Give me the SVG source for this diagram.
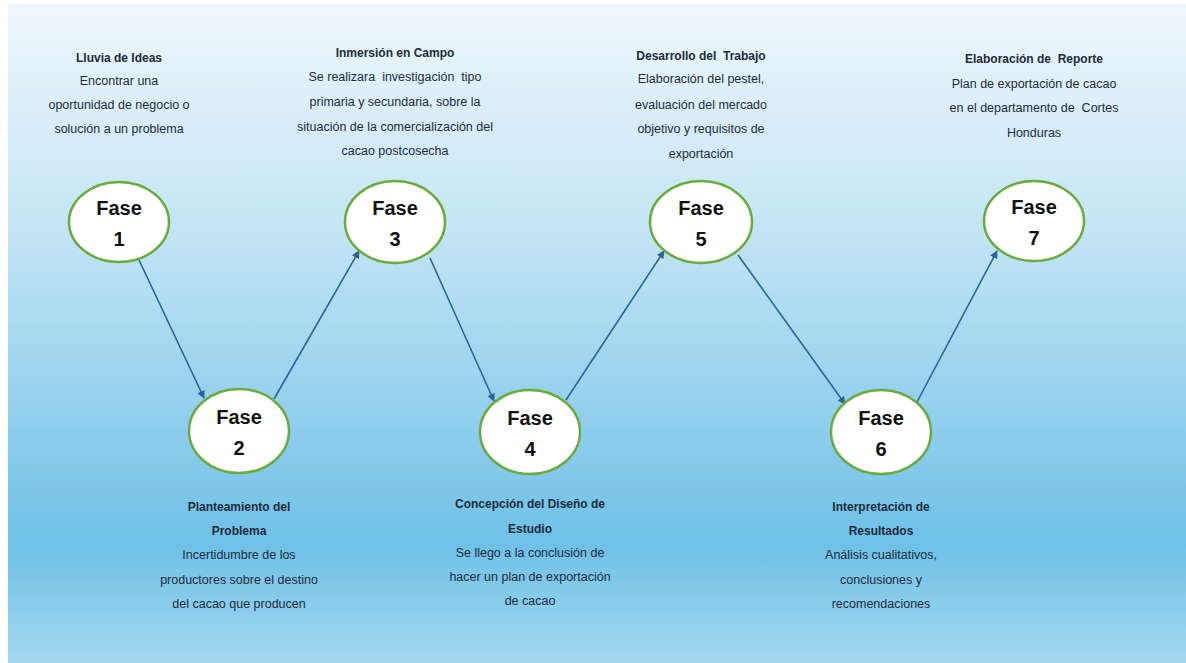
<svg xmlns="http://www.w3.org/2000/svg" width="1186" height="663" viewBox="0 0 1186 663">
<defs>
<linearGradient id="bg" x1="0" y1="0" x2="0" y2="1">
<stop offset="0" stop-color="#eff7fd"/>
<stop offset="0.35" stop-color="#c2e4f5"/>
<stop offset="0.82" stop-color="#6fc0e7"/>
<stop offset="1" stop-color="#a4d8f0"/>
</linearGradient>
<marker id="ah" viewBox="0 0 10 10" refX="9" refY="5" markerWidth="8" markerHeight="8" markerUnits="userSpaceOnUse" orient="auto">
<path d="M0,0 L10,5 L0,10 z" fill="#2a6496"/>
</marker>
<style>
.node ellipse{fill:#ffffff;stroke:#6aab3d;stroke-width:2.5}
.fase{font-family:"Liberation Sans",Arial,sans-serif;font-weight:bold;font-size:20px;fill:#111111;text-anchor:middle}
.t{font-family:"Liberation Sans",Arial,sans-serif;font-size:12.5px;fill:#1d2b3a;text-anchor:middle;white-space:pre}
.b{font-weight:bold;font-size:12px}
.conn line{stroke:#2a6496;stroke-width:1.6;marker-end:url(#ah)}
</style>
</defs>
<rect x="8" y="4" width="1178" height="659" fill="url(#bg)"/>
<g id="connectors" class="conn">
<line x1="139" y1="260" x2="204" y2="398"/>
<line x1="274" y1="399" x2="359" y2="251"/>
<line x1="430" y1="258" x2="494" y2="401"/>
<line x1="566" y1="400" x2="664" y2="251"/>
<line x1="738" y1="255" x2="845" y2="404"/>
<line x1="917" y1="402" x2="997" y2="251"/>
</g>
<g id="fase1" class="node">
<ellipse cx="119" cy="222" rx="50" ry="40"/>
<text class="fase" x="119" y="215">Fase</text>
<text class="fase" x="119" y="246">1</text>
<text class="t b" x="119" y="62">Lluvia de Ideas</text>
<text class="t" x="119" y="85">Encontrar una</text>
<text class="t" x="119" y="109">oportunidad de negocio o</text>
<text class="t" x="119" y="133">solución a un problema</text>
</g>
<g id="fase2" class="node">
<ellipse cx="239" cy="431" rx="50" ry="42"/>
<text class="fase" x="239" y="424">Fase</text>
<text class="fase" x="239" y="455">2</text>
<text class="t b" x="239" y="511">Planteamiento del</text>
<text class="t b" x="239" y="535">Problema</text>
<text class="t" x="239" y="559">Incertidumbre de los</text>
<text class="t" x="239" y="584">productores sobre el destino</text>
<text class="t" x="239" y="608">del cacao que producen</text>
</g>
<g id="fase3" class="node">
<ellipse cx="395" cy="222" rx="50" ry="41"/>
<text class="fase" x="395" y="215">Fase</text>
<text class="fase" x="395" y="246">3</text>
<text class="t b" x="395" y="57">Inmersión en Campo</text>
<text class="t" x="395" y="81">Se realizara  investigación  tipo</text>
<text class="t" x="395" y="106">primaria y secundaria, sobre la</text>
<text class="t" x="395" y="131">situación de la comercialización del</text>
<text class="t" x="395" y="155">cacao postcosecha</text>
</g>
<g id="fase4" class="node">
<ellipse cx="530" cy="432" rx="50" ry="42"/>
<text class="fase" x="530" y="425">Fase</text>
<text class="fase" x="530" y="456">4</text>
<text class="t b" x="530" y="508">Concepción del Diseño de</text>
<text class="t b" x="530" y="533">Estudio</text>
<text class="t" x="530" y="557">Se llego a la conclusión de</text>
<text class="t" x="530" y="581">hacer un plan de exportación</text>
<text class="t" x="530" y="605">de cacao</text>
</g>
<g id="fase5" class="node">
<ellipse cx="701" cy="222" rx="51" ry="41"/>
<text class="fase" x="701" y="215">Fase</text>
<text class="fase" x="701" y="246">5</text>
<text class="t b" x="701" y="60">Desarrollo del  Trabajo</text>
<text class="t" x="701" y="83">Elaboración del pestel,</text>
<text class="t" x="701" y="109">evaluación del mercado</text>
<text class="t" x="701" y="133">objetivo y requisitos de</text>
<text class="t" x="701" y="158">exportación</text>
</g>
<g id="fase6" class="node">
<ellipse cx="881" cy="432" rx="50" ry="42"/>
<text class="fase" x="881" y="425">Fase</text>
<text class="fase" x="881" y="456">6</text>
<text class="t b" x="881" y="511">Interpretación de</text>
<text class="t b" x="881" y="535">Resultados</text>
<text class="t" x="881" y="559">Análisis cualitativos,</text>
<text class="t" x="881" y="584">conclusiones y</text>
<text class="t" x="881" y="608">recomendaciones</text>
</g>
<g id="fase7" class="node">
<ellipse cx="1034" cy="221" rx="50" ry="40"/>
<text class="fase" x="1034" y="214">Fase</text>
<text class="fase" x="1034" y="245">7</text>
<text class="t b" x="1034" y="63">Elaboración de  Reporte</text>
<text class="t" x="1034" y="88">Plan de exportación de cacao</text>
<text class="t" x="1034" y="112">en el departamento de  Cortes</text>
<text class="t" x="1034" y="137">Honduras</text>
</g>
</svg>
